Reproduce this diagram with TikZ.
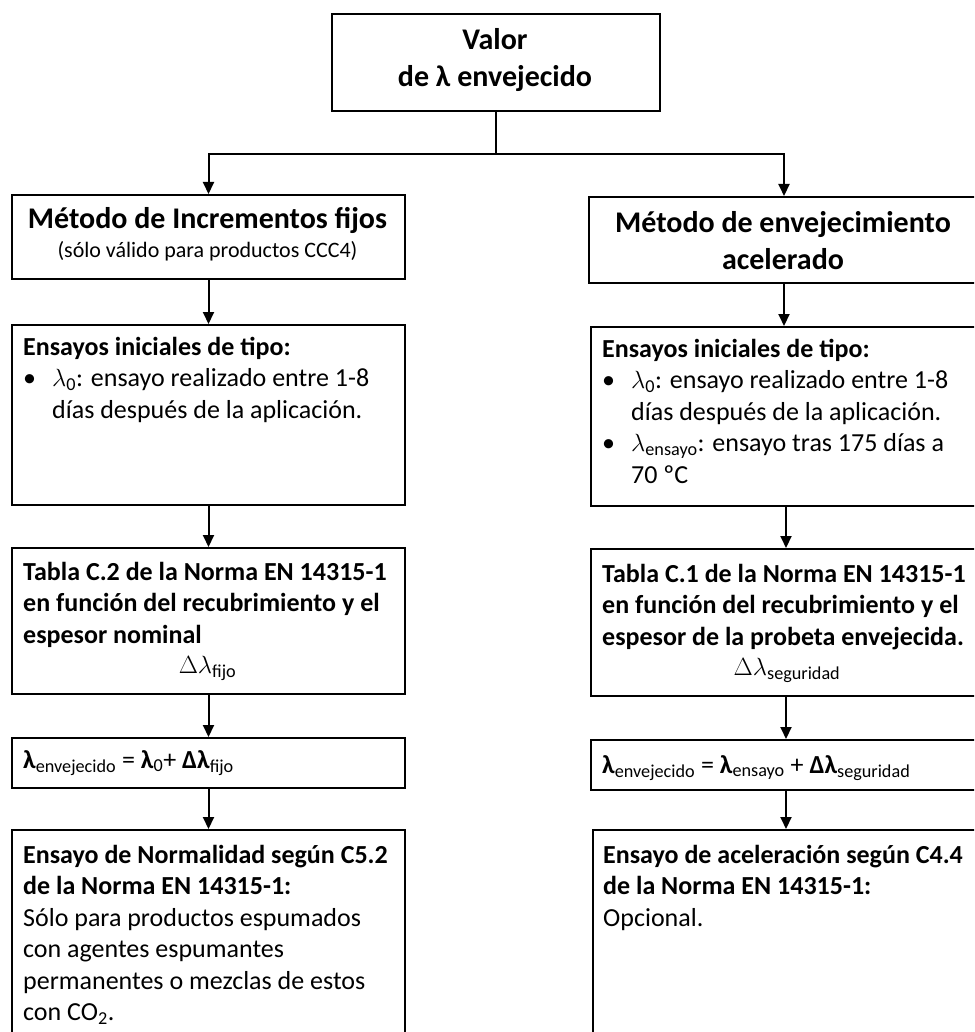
\documentclass[tikz,border=0pt]{standalone}
\usepackage{fontspec}
\setmainfont{Carlito}
\usetikzlibrary{arrows.meta, positioning}
\newcommand{\titulo}{\fontsize{30}{37.5}\selectfont\bfseries}
\newcommand{\cuerpo}{\fontsize{26}{31.5}\selectfont}
\newcommand{\nota}{\fontsize{22}{26}\selectfont}
\newcommand{\tope}{\rule{0pt}{28pt}}
\newcommand{\vineta}{\makebox[29pt][l]{\textbullet}}

\begin{document}
\begin{tikzpicture}[x=1pt, y=-1pt,
    caja/.style={draw, line width=2pt, anchor=north west, inner sep=0pt},
    texto/.style={anchor=north west, inner sep=0pt, align=left, font=\cuerpo},
    flecha/.style={line width=2pt, -{Triangle[length=12pt, width=11pt]}}]
    \useasboundingbox (0,0) rectangle (974,1032);
    \clip (0,0) rectangle (974,1032);

    % top box
    \node[caja, minimum width=328pt, minimum height=97pt] (valor) at (331,13) {};
    \node[texto, anchor=north, align=center, font=\titulo] (valortxt) at (495,21) {\tope Valor\\de λ envejecido};
    \coordinate (rama) at ([yshift=-42pt]valor.south);
    \draw[line width=2pt] (valor.south) -- (rama);

    % left column: incrementos fijos
    \node[caja, minimum width=393pt, minimum height=84pt] (incr) at (11,194) {};
    \node[texto, anchor=north, align=center, font=\titulo] (incrtxt) at (207.5,200) {\tope Método de Incrementos fijos};
    \node[anchor=base, font=\nota, inner sep=0pt] (incrnota) at (207.5,258) {(sólo válido para productos CCC4)};

    \node[caja, minimum width=393pt, minimum height=180pt] (inicI) at (11,324) {};
    \node[texto] (inicItxt) at (23,327) {\tope\textbf{Ensayos iniciales de tipo:}\\
        \vineta$\lambda$\textsubscript{0}: ensayo realizado entre 1-8\\
        \hspace*{29pt}días después de la aplicación.};

    \node[caja, minimum width=393pt, minimum height=146pt] (tablaI) at (11,547) {};
    \node[texto, font=\cuerpo\bfseries] (tablaItxt) at (23,552) {\tope Tabla C.2 de la Norma EN 14315-1\\
        en función del recubrimiento y el\\espesor nominal};
    \node[anchor=base, font=\cuerpo, inner sep=0pt] (dfijo) at (207.5,673) {$\Delta\lambda$\textsubscript{fijo}};

    \node[caja, minimum width=393pt, minimum height=50pt] (formI) at (11,737) {};
    \node[texto] (formItxt) at (23,740) {\tope\textbf{λ}\textsubscript{envejecido} = \textbf{λ}\textsubscript{0}+ \textbf{Δλ}\textsubscript{fijo}};

    \node[caja, minimum width=393pt, minimum height=240pt] (normI) at (11,829) {};
    \node[texto] (normItxt) at (23,835) {\tope\textbf{Ensayo de Normalidad según C5.2}\\
        \textbf{de la Norma EN 14315-1:}\\
        Sólo para productos espumados\\
        con agentes espumantes\\
        permanentes o mezclas de estos\\
        con CO\textsubscript{2}.};

    % right column: envejecimiento acelerado
    \node[caja, minimum width=400pt, minimum height=86pt] (envej) at (588,196) {};
    \node[texto, anchor=north, align=center, font=\titulo] (envejtxt) at (783,204) {\tope Método de envejecimiento\\acelerado};

    \node[caja, minimum width=400pt, minimum height=179pt] (inicA) at (590,326) {};
    \node[texto] (inicAtxt) at (602,329) {\tope\textbf{Ensayos iniciales de tipo:}\\
        \vineta$\lambda$\textsubscript{0}: ensayo realizado entre 1-8\\
        \hspace*{29pt}días después de la aplicación.\\
        \vineta$\lambda$\textsubscript{ensayo}: ensayo tras 175 días a\\
        \hspace*{29pt}70 ºC};

    \node[caja, minimum width=400pt, minimum height=147pt] (tablaA) at (590,548) {};
    \node[texto, font=\cuerpo\bfseries] (tablaAtxt) at (602,554) {\tope Tabla C.1 de la Norma EN 14315-1\\
        en función del recubrimiento y el\\espesor de la probeta envejecida.};
    \node[anchor=base, font=\cuerpo, inner sep=0pt] (dseg) at (787,675) {$\Delta\lambda$\textsubscript{seguridad}};

    \node[caja, minimum width=400pt, minimum height=50pt] (formA) at (590,739) {};
    \node[texto] (formAtxt) at (602,745) {\tope\textbf{λ}\textsubscript{envejecido} = \textbf{λ}\textsubscript{ensayo} + \textbf{Δλ}\textsubscript{seguridad}};

    \node[caja, minimum width=400pt, minimum height=240pt] (acelA) at (592,829) {};
    \node[texto] (acelAtxt) at (603,835) {\tope\textbf{Ensayo de aceleración según C4.4}\\
        \textbf{de la Norma EN 14315-1:}\\
        Opcional.};

    % connectors
    \draw[flecha] (rama) -| (incr.north);
    \draw[flecha] (rama) -| ([xshift=-5pt]envej.north);
    \draw[flecha] (incr) -- (inicI);
    \draw[flecha] (inicI) -- (tablaI);
    \draw[flecha] (tablaI) -- (formI);
    \draw[flecha] (formI) -- (normI);
    \draw[flecha] ([xshift=-5pt]envej.south) -- ([xshift=-5pt]envej.south |- inicA.north);
    \draw[flecha] ([xshift=-5pt]inicA.south) -- ([xshift=-5pt]inicA.south |- tablaA.north);
    \draw[flecha] ([xshift=-5pt]tablaA.south) -- ([xshift=-5pt]tablaA.south |- formA.north);
    \draw[flecha] ([xshift=-5pt]formA.south) -- ([xshift=-5pt]formA.south |- acelA.north);
\end{tikzpicture}
\end{document}
